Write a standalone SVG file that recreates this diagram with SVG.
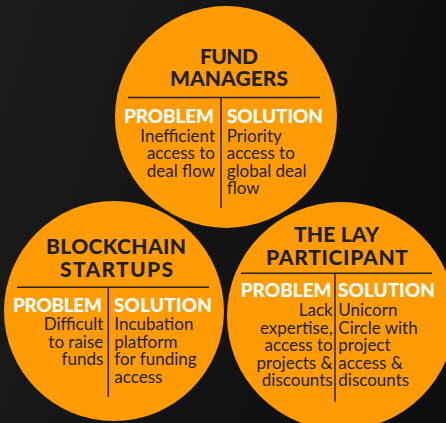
<svg xmlns="http://www.w3.org/2000/svg" width="446" height="423" viewBox="0 0 446 423">
<defs>
<linearGradient id="bg" x1="0" y1="0" x2="1" y2="0.3">
<stop offset="0" stop-color="#1c1c1c"/>
<stop offset="1" stop-color="#0e0e0e"/>
</linearGradient>
<style>
.c{fill:#FF9B05}
.t{font-family:Lato,"Liberation Sans",sans-serif;font-weight:900;font-size:21px;fill:#231f1c;text-anchor:middle}
.h{font-family:Lato,"Liberation Sans",sans-serif;font-weight:900;font-size:19px;fill:#ffffff}
.b{font-family:Lato,"Liberation Sans",sans-serif;font-size:17px;fill:#231f1c}
.e{text-anchor:end}
.l{stroke:#2b2117;stroke-width:1.5;fill:none}
</style>
</defs>
<rect width="446" height="423" fill="url(#bg)"/>
<g id="fund-managers">
<circle class="c" cx="226" cy="117" r="111"/>
<text class="t" x="229" y="64" textLength="58">FUND</text>
<text class="t" x="229" y="86" textLength="118">MANAGERS</text>
<line class="l" x1="128" y1="97.5" x2="320" y2="97.5"/>
<line class="l" x1="221" y1="97" x2="221" y2="208"/>
<text class="h" x="124" y="123" textLength="90">PROBLEM</text>
<text class="h" x="227" y="123" textLength="96">SOLUTION</text>
<text class="b e" x="215" y="141.7">Inefficient</text>
<text class="b e" x="215" y="159.2">access to</text>
<text class="b e" x="215" y="176.8">deal flow</text>
<text class="b" x="226.7" y="141.7">Priority</text>
<text class="b" x="226.7" y="159.2">access to</text>
<text class="b" x="226.7" y="176.8">global deal</text>
<text class="b" x="226.7" y="194.3">flow</text>
</g>
<g id="blockchain-startups">
<circle class="c" cx="114" cy="311" r="110"/>
<text class="t" x="116" y="254" textLength="140">BLOCKCHAIN</text>
<text class="t" x="116.5" y="276.7" textLength="113">STARTUPS</text>
<line class="l" x1="17" y1="287.3" x2="209" y2="287.3"/>
<line class="l" x1="108.3" y1="287" x2="108.3" y2="397"/>
<text class="h" x="13" y="311.7" textLength="89">PROBLEM</text>
<text class="h" x="114" y="311.7" textLength="98">SOLUTION</text>
<text class="b e" x="103.3" y="330">Difficult</text>
<text class="b e" x="103.3" y="347.7">to raise</text>
<text class="b e" x="103.3" y="365.4">funds</text>
<text class="b" x="114.3" y="330">Incubation</text>
<text class="b" x="114.3" y="347.7">platform</text>
<text class="b" x="114.3" y="365.4">for funding</text>
<text class="b" x="114.3" y="383">access</text>
</g>
<g id="lay-participant">
<circle class="c" cx="341" cy="316" r="114"/>
<text class="t" x="336.5" y="241.7" textLength="85">THE LAY</text>
<text class="t" x="337" y="265" textLength="142">PARTICIPANT</text>
<line class="l" x1="241" y1="273.3" x2="432" y2="273.3"/>
<line class="l" x1="335" y1="273" x2="335" y2="401.7"/>
<text class="h" x="240.7" y="296.7" textLength="91">PROBLEM</text>
<text class="h" x="338" y="296.7" textLength="97">SOLUTION</text>
<text class="b e" x="332.7" y="316">Lack</text>
<text class="b e" x="332.7" y="333.5">expertise,</text>
<text class="b e" x="332.7" y="351">access to</text>
<text class="b e" x="332.7" y="368.5">projects &amp;</text>
<text class="b e" x="332.7" y="386">discounts</text>
<text class="b" x="338.3" y="316">Unicorn</text>
<text class="b" x="338.3" y="333.5">Circle with</text>
<text class="b" x="338.3" y="351">project</text>
<text class="b" x="338.3" y="368.5">access &amp;</text>
<text class="b" x="338.3" y="386">discounts</text>
</g>
<g id="connectors"/>
</svg>
